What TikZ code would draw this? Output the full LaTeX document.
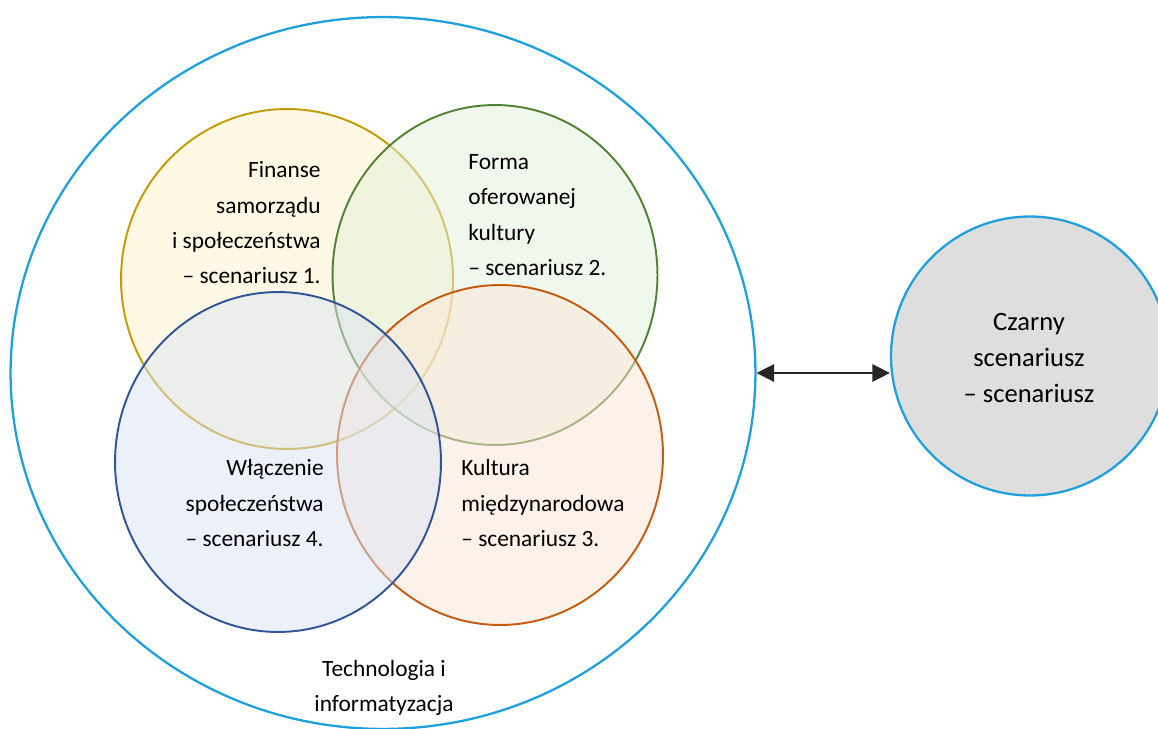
\documentclass[tikz,border=0pt]{standalone}
\usepackage{fontspec}
\setmainfont{Carlito}
\usetikzlibrary{shapes.geometric,arrows.meta}
\definecolor{ringblue}{RGB}{30,160,218}
\definecolor{finline}{RGB}{196,154,0}
\definecolor{finfill}{RGB}{255,242,204}
\definecolor{formline}{RGB}{84,130,53}
\definecolor{formfill}{RGB}{226,239,218}
\definecolor{kultline}{RGB}{197,90,17}
\definecolor{kultfill}{RGB}{251,229,214}
\definecolor{wlline}{RGB}{47,85,151}
\definecolor{wlfill}{RGB}{218,227,243}
\definecolor{czarnyfill}{RGB}{222,222,222}
\begin{document}
\begin{tikzpicture}[x=0.02cm,y=-0.02cm,
  oval/.style={ellipse,inner sep=0pt,line width=1.1pt},
  venn/.style={oval,fill opacity=0.5},
  label/.style={inner sep=0pt,font=\fontsize{13.3}{20.1}\selectfont}]
\useasboundingbox (0,0) rectangle (1158,729);
% outer ring and the black scenario
\node[oval,draw=ringblue,line width=1.3pt,minimum width=14.9cm,minimum height=14.24cm] (tech) at (383,373) {};
\node[oval,draw=ringblue,fill=czarnyfill,line width=1.3pt,minimum width=5.56cm,minimum height=5.58cm] (czarny) at (1030,356) {};

% four scenarios
\node[venn,draw=finline,fill=finfill,minimum width=6.64cm,minimum height=6.8cm] (fin) at (287,279) {};
\node[venn,draw=formline,fill=formfill,minimum width=6.5cm,minimum height=6.8cm] (forma) at (495,275) {};
\node[venn,draw=kultline,fill=kultfill,minimum width=6.52cm,minimum height=6.8cm] (kult) at (500,455) {};
\node[venn,draw=wlline,fill=wlfill,minimum width=6.52cm,minimum height=6.8cm] (wl) at (278,462) {};

\node[label,align=right,anchor=east] (finlabel) at (321,223) {Finanse\\samorządu\\i społeczeństwa\\– scenariusz 1.};
\node[label,align=left,anchor=west] (formalabel) at (468,215) {Forma\\oferowanej\\kultury\\– scenariusz 2.};
\node[label,align=left,anchor=west] (kultlabel) at (461,503) {Kultura\\międzynarodowa\\– scenariusz 3.};
\node[label,align=right,anchor=east] (wllabel) at (324,503) {Włączenie\\społeczeństwa\\– scenariusz 4.};
\node[label,align=center,font=\fontsize{15.1}{20.4}\selectfont] (czarnylabel) at (1029,358) {Czarny\\scenariusz\\– scenariusz};
\node[label,align=center] (techlabel) at (384,688) {Technologia i\\informatyzacja};

\draw[{Triangle[length=10pt,width=10pt]}-{Triangle[length=10pt,width=10pt]},line width=0.8pt,black!85] (tech.east) -- (tech.east -| czarny.west);
\end{tikzpicture}
\end{document}
